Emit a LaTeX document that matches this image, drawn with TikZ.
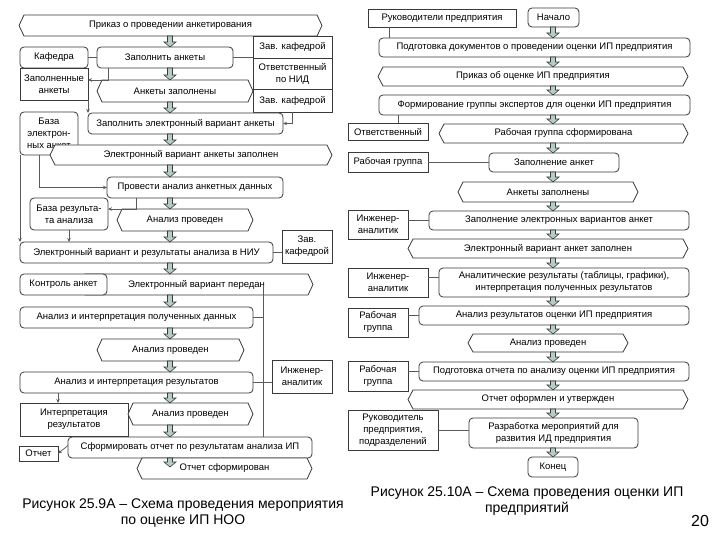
\documentclass[tikz,border=0pt]{standalone}
\usepackage{fontspec}
\setmainfont{Liberation Sans}
\usetikzlibrary{calc,arrows.meta}
\definecolor{boxLine}{HTML}{3A3A3A}
\definecolor{linkLine}{HTML}{5A5A5A}
\definecolor{flowFill}{HTML}{B4CEC4}
\newcommand{\diagFont}{\fontsize{9.5}{12}\selectfont}
\newcommand{\flowArrow}[2]{%
  \draw[flowar] let \p1=#1, \p2=#2 in
    (\x1-2.5pt,\y1) -- (\x1+2.5pt,\y1) -- (\x1+2.5pt,\y2+5pt) -- (\x1+6pt,\y2+5pt)
    -- (\x1,\y2) -- (\x1-6pt,\y2+5pt) -- (\x1-2.5pt,\y2+5pt) -- cycle;}
\makeatletter
\pgfdeclareshape{event}{%
  \inheritsavedanchors[from=rectangle]%
  \inheritanchorborder[from=rectangle]%
  \inheritanchor[from=rectangle]{center}%
  \inheritanchor[from=rectangle]{text}%
  \inheritanchor[from=rectangle]{base}%
  \inheritanchor[from=rectangle]{mid}%
  \inheritanchor[from=rectangle]{north}%
  \inheritanchor[from=rectangle]{south}%
  \inheritanchor[from=rectangle]{east}%
  \inheritanchor[from=rectangle]{west}%
  \inheritanchor[from=rectangle]{north east}%
  \inheritanchor[from=rectangle]{north west}%
  \inheritanchor[from=rectangle]{south east}%
  \inheritanchor[from=rectangle]{south west}%
  \backgroundpath{%
    \southwest \edef\evxa{\the\pgf@x}\edef\evya{\the\pgf@y}%
    \northeast \edef\evxb{\the\pgf@x}\edef\evyb{\the\pgf@y}%
    \pgfpathmoveto{\pgfpoint{\evxa}{(\evya+\evyb)/2}}%
    \pgfpathlineto{\pgfpoint{\evxa+5pt}{\evyb}}%
    \pgfpathlineto{\pgfpoint{\evxb-5pt}{\evyb}}%
    \pgfpathlineto{\pgfpoint{\evxb}{(\evya+\evyb)/2}}%
    \pgfpathlineto{\pgfpoint{\evxb-5pt}{\evya}}%
    \pgfpathlineto{\pgfpoint{\evxa+5pt}{\evya}}%
    \pgfpathclose}%
}
\makeatother

\begin{document}
\begin{tikzpicture}[x=1pt, y=-1pt]
  \tikzset{
    every node/.style={font=\diagFont, inner sep=1pt, outer sep=0pt, align=center},
    sz/.style 2 args={minimum width=#1, minimum height=#2},
    fn/.style={draw=boxLine, line width=0.8pt, fill=white, rounded corners=4pt},
    ev/.style={shape=event, draw=boxLine, line width=0.8pt, fill=white},
    org/.style={draw=boxLine, line width=0.8pt, fill=white},
    link/.style={draw=linkLine, line width=0.7pt},
    linkto/.style={link, -{Stealth[length=4pt, width=3.5pt]}},
    flowar/.style={draw=boxLine, line width=0.6pt, fill=flowFill},
    capt/.style={font=\fontsize{14}{16.5}\selectfont}
  }
  \path[fill=white, use as bounding box] (0,0) rectangle (720,540);
  \coordinate (cL) at (170,0);
  \coordinate (cR) at (553,0);
  \coordinate (bus) at (263,285);

  \node[ev, sz={303}{21}] (e1) at (170.5,25.5) {Приказ о проведении анкетирования};
  \node[org, sz={79}{22}] (t1) at (292.5,47) {Зав. кафедрой};
  \node[org, sz={79}{31}] (t2) at (292.5,73.5) {Ответственный\\по НИД};
  \node[org, sz={79}{23}] (t3) at (292.5,100.5) {Зав. кафедрой};
  \node[fn, sz={68}{21}] (o1) at (54,57.5) {Кафедра};
  \node[fn, sz={136}{21}] (f1) at (165,57.5) {Заполнить анкеты};
  \node[org, sz={68}{32}] (d1) at (54,84) {Заполненные\\анкеты};
  \node[ev, sz={156}{22}] (e2) at (175,91) {Анкеты заполнены};
  \node[fn, sz={58}{43}] (db1) at (49,133.5) {База\\электрон-\\ных анкет};
  \node[fn, sz={195}{21}] (f2) at (185.5,123.5) {Заполнить электронный вариант анкеты};
  \node[ev, sz={282}{20}] (e3) at (191,155) {Электронный вариант анкеты заполнен};
  \node[fn, sz={176}{21}] (f3) at (195,187.5) {Провести анализ анкетных данных};
  \node[fn, sz={78}{32}] (db2) at (69,214) {База результа-\\та анализа};
  \node[ev, sz={136}{22}] (e4) at (185,220) {Анализ проведен};
  \node[fn, sz={253}{21}] (f4) at (146.5,252.5) {Электронный вариант и результаты анализа в НИУ};
  \node[org, sz={50}{33}] (o2) at (307,246.5) {Зав.\\кафедрой};
  \node[ev, sz={233}{21}] (e5) at (196.5,284.5) {Электронный вариант передан};
  \node[fn, sz={87}{21}] (o3) at (63.5,284.5) {Контроль анкет};
  \node[fn, sz={233}{21}] (f5) at (136.5,317.5) {Анализ и интерпретация полученных данных};
  \node[ev, sz={147}{22}] (e6) at (170.5,350) {Анализ проведен};
  \node[fn, sz={233}{21}] (f6) at (136.5,382.5) {Анализ и интерпретация результатов};
  \node[org, sz={60}{33}] (o4) at (302,376.5) {Инженер-\\аналитик};
  \node[org, sz={108}{33}] (d2) at (74,419.5) {Интерпретация\\результатов};
  \node[ev, sz={125}{22}] (e7) at (190.5,414) {Анализ проведен};
  \node[fn, sz={244}{21}] (f7) at (190,447.5) {Сформировать отчет по результатам анализа ИП};
  \node[org, sz={39}{15}] (d3) at (38.5,453.5) {Отчет};
  \node[ev, sz={175}{21}] (e8) at (224.5,468.5) {Отчет сформирован};

  \node[org, sz={148}{18}] (o5) at (442,18) {Руководители предприятия};
  \node[fn, sz={51}{19}] (s1) at (553.5,17.5) {Начало};
  \node[fn, sz={311}{19}] (g1) at (534.5,47.5) {Подготовка документов о проведении оценки ИП предприятия};
  \node[ev, sz={310}{19}] (h1) at (533,76.5) {Приказ об оценке ИП предприятия};
  \node[fn, sz={311}{20}] (g2) at (534.5,105) {Формирование группы экспертов для оценки ИП предприятия};
  \node[org, sz={80}{17}] (o6) at (388,132) {Ответственный};
  \node[ev, sz={249}{19}] (h2) at (563.5,133.5) {Рабочая группа сформирована};
  \node[org, sz={80}{20}] (o7) at (388,162) {Рабочая группа};
  \node[fn, sz={130}{19}] (g3) at (554,162.5) {Заполнение анкет};
  \node[ev, sz={180}{20}] (h3) at (548,192) {Анкеты заполнены};
  \node[org, sz={60}{29}] (o8) at (378,224.5) {Инженер-\\аналитик};
  \node[fn, sz={260}{19}] (g4) at (559,220.5) {Заполнение электронных вариантов анкет};
  \node[ev, sz={280}{19}] (h4) at (548,248.5) {Электронный вариант анкет заполнен};
  \node[org, sz={80}{29}] (o9) at (388,282.5) {Инженер-\\аналитик};
  \node[fn, sz={250}{29}] (g5) at (564,282.5) {Аналитические результаты (таблицы, графики),\\интерпретация полученных результатов};
  \node[org, sz={60}{29}] (o10) at (378,322.5) {Рабочая\\группа};
  \node[fn, sz={270}{19}] (g6) at (554,315.5) {Анализ результатов оценки ИП предприятия};
  \node[ev, sz={160}{18}] (h5) at (548,343) {Анализ проведен};
  \node[org, sz={60}{30}] (o11) at (378,376) {Рабочая\\группа};
  \node[fn, sz={270}{19}] (g7) at (554,371.5) {Подготовка отчета по анализу оценки ИП предприятия};
  \node[ev, sz={280}{19}] (h6) at (548,399.5) {Отчет оформлен и утвержден};
  \node[org, sz={90}{40}] (o12) at (393,430) {Руководитель\\предприятия,\\подразделений};
  \node[fn, sz={169}{30}] (g8) at (553.5,433) {Разработка мероприятий для\\развития ИД предприятия};
  \node[fn, sz={50}{20}] (s2) at (553,467) {Конец};

  \node[capt] (cap1) at (183,513) {Рисунок 25.9А – Схема проведения мероприятия\\по оценке ИП НОО};
  \node[capt] (cap2) at (527,501) {Рисунок 25.10А – Схема проведения оценки ИП\\предприятий};
  \node[font=\fontsize{16}{18}\selectfont] (num) at (700,521) {20};

  \foreach \a/\b in {e1/f1, f1/e2, e2/f2, f2/e3, e3/f3, f3/e4, e4/f4, f4/e5, e5/f5, f5/e6, e6/f6, f6/e7, e7/f7}
    \flowArrow{(\a.south -| cL)}{(\b.north -| cL)};
  \flowArrow{(f7.south -| cL)}{($(f7.south -| cL)+(0,9)$)}
  \foreach \a/\b in {s1/g1, g1/h1, h1/g2, g2/h2, h2/g3, g3/h3, h3/g4, g4/h4, h4/g5, g5/g6, g6/h5, h5/g7, g7/h6, h6/g8, g8/s2}
    \flowArrow{(\a.south -| cR)}{(\b.north -| cR)};

  \coordinate (k1) at ([xshift=38pt]f6.south west);
  \coordinate (k2) at ([xshift=-10pt]db1.south);
  \draw[link] (o1.east) -- (f1.west);
  \draw[link] (f1.east) -- (f1.east -| t2.west);
  \draw[linkto] ([xshift=11pt]f1.south west) |- ([yshift=4pt]d1.east);
  \draw[linkto] (d1.south east) -- (d1.south east |- f2.north);
  \draw[linkto] (t3.south) |- (f2.east);
  \draw[linkto] (k2) |- (f3.west);
  \draw[linkto] (db1.south west) -- (db1.south west |- f4.north);
  \draw[linkto] ([xshift=29pt]f3.south west) |- ([yshift=5pt]db2.east);
  \draw[linkto] (db2.south) -- (db2.south |- f4.north);
  \draw[link] (f4.east) -- (f4.east -| o2.west);
  \draw[link] (bus) -- (bus |- f7.north);
  \draw[link] (f5.east) -- (f5.east -| bus);
  \draw[link] (f6.east) -- (f6.east -| o4.west);
  \draw[linkto] (k1) -- (k1 |- d2.north);
  \draw[linkto] ([yshift=2pt]f7.west) -- (d3.east);

  \coordinate (k3) at ([xshift=21pt]o5.south west);
  \coordinate (k4) at ([xshift=19pt]g2.south west);
  \coordinate (k5) at ([yshift=5pt]o9.east);
  \draw[link] (k3) -- (k3 |- g1.north);
  \draw[link] (k4) -- (k4 |- o6.north);
  \draw[link] (o7.east) -- (o7.east -| g3.west);
  \draw[link] (g4.west -| o8.east) -- (g4.west);
  \draw[link] (k5) -- (k5 -| g5.west);
  \draw[link] (g6.west -| o10.east) -- (g6.west);
  \draw[link] (g7.west -| o11.east) -- (g7.west);
  \draw[link] (o12.east) -- (o12.east -| g8.west);
\end{tikzpicture}
\end{document}
